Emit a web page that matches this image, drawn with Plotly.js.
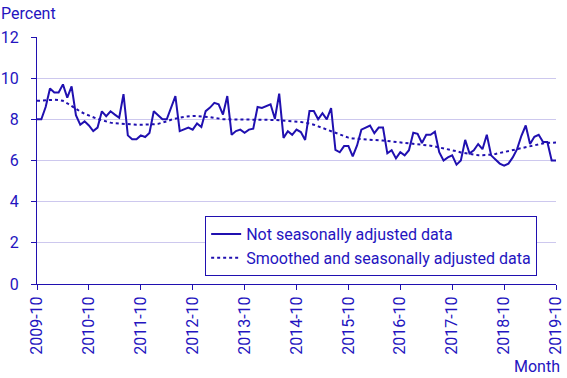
<!DOCTYPE html>
<html>
<head>
<meta charset="utf-8">
<script src="https://cdn.plot.ly/plotly-3.0.1.min.js"></script>
<style>html,body{margin:0;padding:0;background:#fff;}#chart{width:567px;height:378px;}</style>
</head>
<body>
<div id="chart"></div>
<script>
// Month labels 2009-10 .. 2019-10
const months = [];
for (let y = 2009, m = 10; y < 2019 || (y === 2019 && m <= 10); ) {
  months.push(y + '-' + (m < 10 ? '0' + m : m));
  m++; if (m > 12) { m = 1; y++; }
}
const tickLabels = ['2009-10','2010-10','2011-10','2012-10','2013-10','2014-10','2015-10','2016-10','2017-10','2018-10','2019-10'];

const notAdjusted = [
  8.00, 8.00, 8.60, 9.50, 9.30, 9.30, 9.70, 9.05, 9.60, 8.20, 7.74, 7.90,
  7.70, 7.43, 7.60, 8.39, 8.15, 8.39, 8.23, 8.08, 9.22, 7.22, 7.03, 7.03,
  7.22, 7.14, 7.34, 8.39, 8.20, 8.00, 8.00, 8.60, 9.13, 7.43, 7.50, 7.60,
  7.50, 7.80, 7.63, 8.40, 8.57, 8.80, 8.73, 8.23, 9.13, 7.25, 7.43, 7.50,
  7.35, 7.50, 7.55, 8.60, 8.55, 8.65, 8.73, 8.03, 9.25, 7.10, 7.42, 7.25,
  7.50, 7.38, 7.00, 8.40, 8.40, 8.00, 8.30, 8.00, 8.55, 6.52, 6.40, 6.70,
  6.70, 6.20, 6.73, 7.50, 7.60, 7.70, 7.33, 7.60, 7.60, 6.35, 6.50, 6.10,
  6.40, 6.25, 6.50, 7.35, 7.30, 6.85, 7.25, 7.25, 7.40, 6.40, 6.00, 6.15,
  6.25, 5.80, 6.00, 7.00, 6.35, 6.50, 6.80, 6.55, 7.25, 6.25, 6.05, 5.85,
  5.75, 5.85, 6.15, 6.55, 7.20, 7.70, 6.80, 7.15, 7.25, 6.90, 6.90, 6.00,
  6.00
];
const smoothed = [
  8.90, 8.92, 8.94, 8.95, 8.95, 8.94, 8.90, 8.78, 8.64, 8.52, 8.38, 8.27,
  8.20, 8.10, 8.02, 7.95, 7.89, 7.84, 7.81, 7.79, 7.77, 7.75, 7.74, 7.74,
  7.74, 7.74, 7.74, 7.76, 7.78, 7.83, 7.90, 7.98, 8.04, 8.08, 8.12, 8.15,
  8.16, 8.16, 8.15, 8.14, 8.11, 8.07, 8.03, 8.01, 8.00, 8.00, 8.00, 8.00,
  8.00, 8.00, 8.00, 8.00, 8.00, 8.00, 7.99, 7.97, 7.95, 7.94, 7.93, 7.92,
  7.91, 7.87, 7.84, 7.80, 7.74, 7.66, 7.58, 7.49, 7.41, 7.33, 7.24, 7.16,
  7.11, 7.07, 7.05, 7.04, 7.02, 7.00, 6.99, 6.98, 6.97, 6.95, 6.93, 6.91,
  6.89, 6.87, 6.85, 6.83, 6.81, 6.78, 6.75, 6.72, 6.68, 6.64, 6.59, 6.54,
  6.50, 6.45, 6.39, 6.36, 6.30, 6.27, 6.26, 6.26, 6.26, 6.28, 6.32, 6.36,
  6.40, 6.45, 6.50, 6.55, 6.60, 6.65, 6.70, 6.75, 6.80, 6.83, 6.85, 6.86,
  6.87
];
const yTicks = [0, 2, 4, 6, 8, 10, 12];

const blue = '#2010b0';
const textBlue = '#2414c0';
const gridCol = '#cdc8ee';
const font = {family: 'Roboto, sans-serif', size: 16, color: textBlue};

const traces = [
  {x: months, y: notAdjusted, type: 'scatter', mode: 'lines',
   name: 'Not seasonally adjusted data', line: {color: blue, width: 2}},
  {x: months, y: smoothed, type: 'scatter', mode: 'lines',
   name: 'Smoothed and seasonally adjusted data', line: {color: blue, width: 2, dash: 'dot'}}
];

const layout = {
  width: 567, height: 378,
  margin: {l: 37, r: 11, t: 37, b: 94},
  paper_bgcolor: '#fff', plot_bgcolor: '#fff',
  font: font,
  showlegend: true,
  legend: {x: 0.324, y: 0.275, xanchor: 'left', yanchor: 'top',
           bgcolor: '#fff', bordercolor: blue, borderwidth: 1,
           font: {family: 'Roboto, sans-serif', size: 16, color: textBlue},
           tracegroupgap: 0},
  xaxis: {type: 'category', range: [0, 120], showgrid: false,
          showline: true, linecolor: blue, linewidth: 1,
          ticks: 'outside', ticklen: 5, tickcolor: blue,
          tickvals: tickLabels, ticktext: tickLabels, tickangle: -90,
          tickfont: font, zeroline: false, fixedrange: true},
  yaxis: {range: [0, 12], tickvals: yTicks, showgrid: true, gridcolor: gridCol, gridwidth: 1,
          showline: true, linecolor: blue, linewidth: 1,
          ticks: 'outside', ticklen: 5, tickcolor: blue, ticklabelstandoff: 9,
          tickfont: font, zeroline: false, fixedrange: true},
  annotations: [
    {text: 'Percent', xref: 'paper', yref: 'paper', x: 0, y: 1, xanchor: 'left', yanchor: 'bottom',
     xshift: -38, yshift: 12, showarrow: false, font: font},
    {text: 'Month', xref: 'paper', yref: 'paper', x: 1, y: 0, xanchor: 'right', yanchor: 'middle',
     xshift: 6, yshift: -82, showarrow: false, font: font}
  ]
};

Plotly.newPlot('chart', traces, layout, {displayModeBar: false, staticPlot: true});
</script>
</body>
</html>
